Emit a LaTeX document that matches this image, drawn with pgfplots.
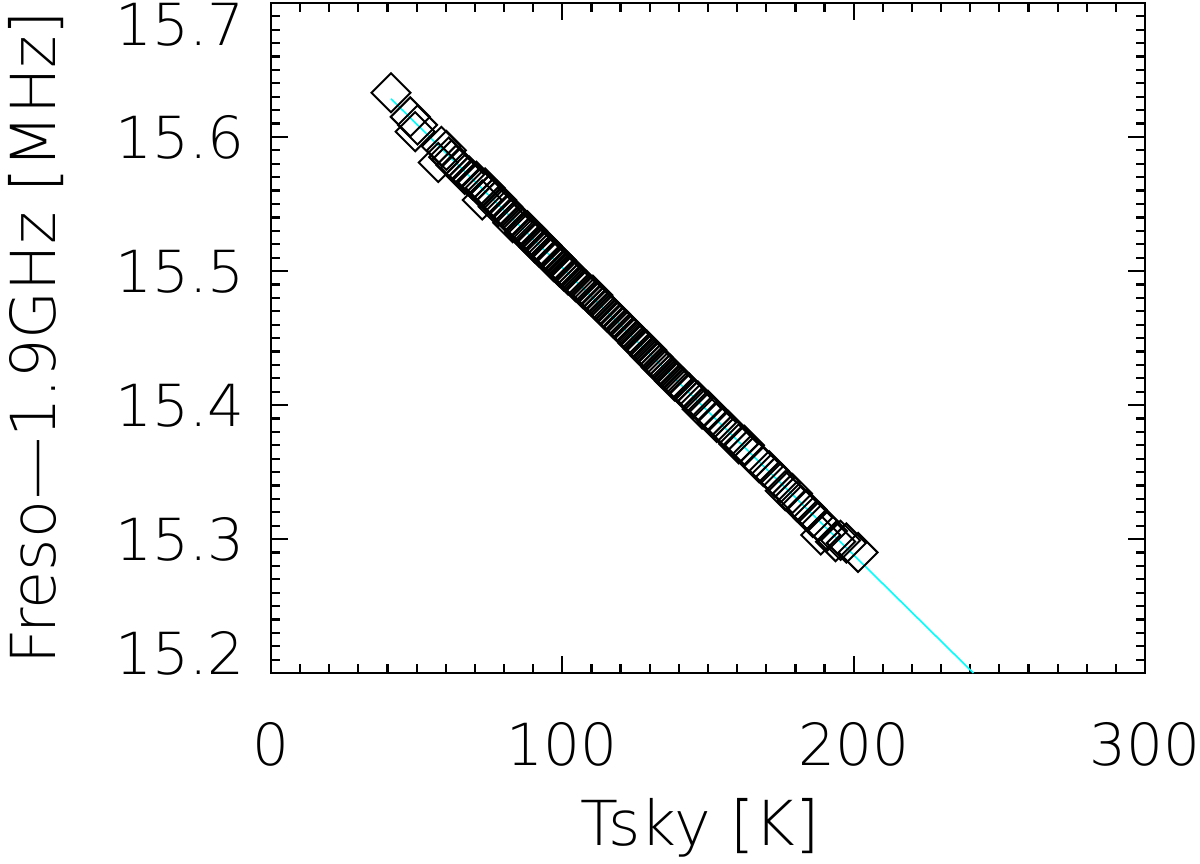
\documentclass[border=0pt]{standalone}
\usepackage{fontspec}
\setmainfont{DejaVuSans-ExtraLight.ttf}
\usepackage{pgfplots}
\pgfplotsset{compat=1.18}
\definecolor{idlcyan}{RGB}{0,255,255}
% y tick label, vertically centred on its tick, with an optional shift
\newcommand{\yl}[2]{\raisebox{\dimexpr-0.365em+#1\relax}[0pt][0pt]{#2}}

\begin{document}
\begin{tikzpicture}
\begin{axis}[
  scale only axis,
  width=437pt, height=335pt,
  xmin=0, xmax=300, ymin=15.2, ymax=15.7,
  axis line style={line width=1.2pt},
  xtick={0,100,200,300},
  minor x tick num=9,
  ytick={15.2,15.3,15.4,15.5,15.6,15.7},
  yticklabels={\yl{10pt}{15.2},\yl{0pt}{15.3},\yl{0pt}{15.4},\yl{0pt}{15.5},\yl{0pt}{15.6},\yl{-10.5pt}{15.7}},
  minor y tick num=9,
  tick align=inside,
  major tick length=8.5pt,
  minor tick length=4.5pt,
  every tick/.style={black, line width=1.1pt},
  /pgf/number format/assume math mode=true,
  tick label style={font=\fontsize{29}{34}\selectfont},
  yticklabel style={anchor=east, inner sep=0pt, xshift=-13pt},
  xticklabel style={anchor=north, inner sep=0pt, yshift=-24.5pt},
  xlabel={Tsky [K]},
  ylabel={Freso---1.9GHz [MHz]},
  every axis x label/.style={at={(axis description cs:0.491,-0.231)}, anchor=center,
    font=\fontsize{31}{36}\selectfont},
  every axis y label/.style={at={(axis description cs:-0.269,0.5)}, rotate=90, anchor=center,
    font=\fontsize{31}{36}\selectfont},
]
\addplot[only marks, mark=square, mark size=6.9pt, line width=1pt, black,
  mark options={rotate=45}]
  coordinates {
  (41.2,15.633) (47.8,15.615) (50.3,15.609) (49.5,15.604)
  (57.4,15.581) (58.5,15.593) (60.2,15.590) (61.0,15.585) (62.0,15.583)
  (63.5,15.579) (65.0,15.577) (66.5,15.572) (68.0,15.571) (69.2,15.568)
  (70.5,15.567) (72.0,15.562) (72.5,15.553) (73.5,15.562) (75.0,15.557)
  (76.2,15.554) (77.5,15.553) (78.0,15.548) (79.5,15.548) (80.5,15.545)
  (81.5,15.543) (82.5,15.540) (83.0,15.536) (84.5,15.537) (85.5,15.534)
  (86.5,15.532) (87.0,15.529) (88.0,15.530) (89.0,15.526) (90.0,15.525)
  (90.5,15.521) (91.5,15.522) (92.0,15.518) (93.0,15.519) (94.0,15.516)
  (95.0,15.513) (95.5,15.511) (96.5,15.511) (97.0,15.507) (98.0,15.508)
  (99.0,15.503) (100.0,15.503) (100.5,15.500) (101.5,15.500) (102.0,15.497)
  (103.0,15.497) (104.0,15.494) (104.5,15.492) (105.5,15.491) (106.5,15.489)
  (107.0,15.487) (108.0,15.486) (109.0,15.483) (110.0,15.481) (110.5,15.482)
  (111.5,15.478) (112.0,15.477) (113.0,15.475) (114.0,15.473) (115.0,15.471)
  (115.5,15.469) (116.5,15.468) (117.5,15.465) (118.0,15.464) (119.0,15.462)
  (120.0,15.460) (121.0,15.458) (122.0,15.456) (123.0,15.453) (123.5,15.452)
  (124.5,15.450) (125.5,15.448) (126.0,15.446) (127.0,15.445) (128.0,15.442)
  (129.0,15.441) (130.0,15.437) (131.0,15.436) (131.5,15.434) (132.5,15.432)
  (133.5,15.430) (134.0,15.428) (135.0,15.427) (136.0,15.424) (137.0,15.423)
  (138.0,15.420) (138.5,15.418) (139.5,15.417) (140.5,15.415) (141.5,15.413)
  (142.0,15.411) (143.5,15.409) (145.0,15.405) (146.5,15.403) (148.0,15.397)
  (150.0,15.396) (151.5,15.392) (153.0,15.387) (155.0,15.384) (157.0,15.381)
  (159.0,15.376) (160.5,15.371) (162.5,15.370) (165.0,15.363) (167.5,15.357)
  (169.0,15.354) (171.0,15.351) (173.0,15.346) (175.0,15.342) (176.5,15.336)
  (179.0,15.334) (180.5,15.328) (182.0,15.325) (184.0,15.322) (186.0,15.316)
  (188.0,15.313) (188.7,15.303) (191.0,15.306) (193.8,15.298) (195.5,15.299)
  (197.5,15.297) (201.5,15.290)
  };
% fitted line
\addplot[idlcyan, line width=0.8pt] coordinates {(41.2,15.6285) (241.1,15.2)};
\end{axis}
\pgfresetboundingbox
\useasboundingbox ([xshift=-135.5pt,yshift=-95pt]current axis.south west)
  rectangle ([xshift=464.5pt,yshift=336.5pt]current axis.south west);
\end{tikzpicture}
\end{document}
